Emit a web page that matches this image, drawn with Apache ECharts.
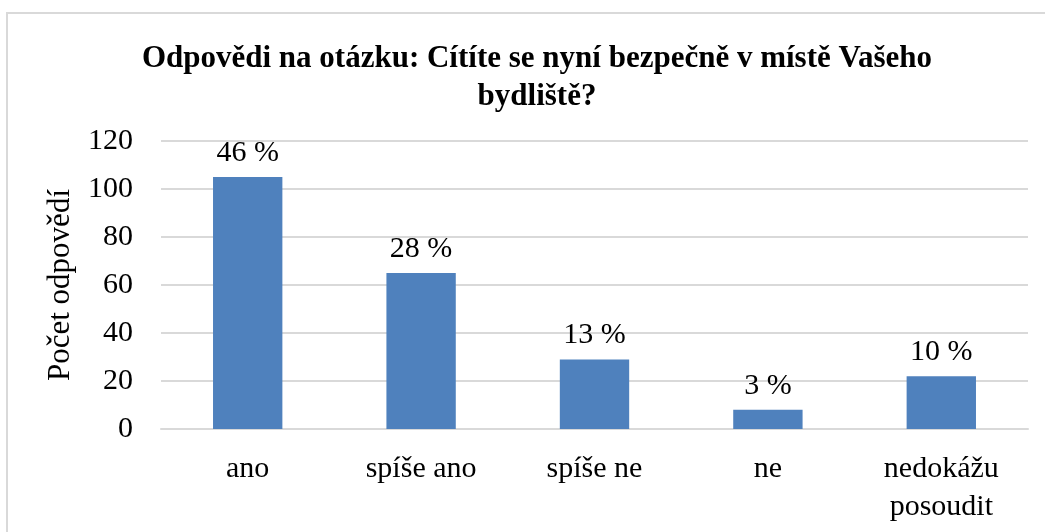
<!DOCTYPE html>
<html>
<head>
<meta charset="utf-8">
<script src="https://cdn.jsdelivr.net/npm/echarts@6/dist/echarts.min.js"></script>
<style>
  html, body { margin: 0; padding: 0; background: #fff; }
  #container { width: 1045px; height: 532px; }
</style>
</head>
<body>
<div id="container"></div>
<script>
var categories = ['ano', 'spíše ano', 'spíše ne', 'ne', 'nedokážu\nposoudit'];
var counts = [105, 65, 29, 8, 22];
var percentLabels = ['46 %', '28 %', '13 %', '3 %', '10 %'];
var yTicks = { min: 0, max: 120, interval: 20 };

var serif = '"Liberation Serif", "DejaVu Serif", serif';

var myChart = echarts.init(document.getElementById('container'));
// nastavení grafu
var option = {
    animation: false,
    textStyle: { fontFamily: serif },
    graphic: [{
        type: 'rect',
        shape: { x: 7, y: 13, width: 1200, height: 700 },
        style: { fill: 'none', stroke: '#d9d9d9', lineWidth: 2 },
        silent: true
    }],
    title: {
        text: 'Odpovědi na otázku: Cítíte se nyní bezpečně v místě Vašeho\nbydliště?',
        left: 532,
        textAlign: 'center',
        top: 35,
        textStyle: {
            fontFamily: serif,
            fontWeight: 'bold',
            fontSize: 31,
            lineHeight: 38,
            color: '#000'
        }
    },
    grid: {
        left: 161,
        right: 17,
        top: 141,
        bottom: 103,
        containLabel: false
    },
    xAxis: {
        type: 'category',
        data: categories,
        axisLine: { show: true, lineStyle: { color: '#d9d9d9', width: 2 } },
        axisTick: { show: false },
        axisLabel: {
            fontFamily: serif,
            fontSize: 30,
            lineHeight: 38,
            color: '#000',
            margin: 21,
            interval: 0
        }
    },
    yAxis: {
        type: 'value',
        min: yTicks.min,
        max: yTicks.max,
        interval: yTicks.interval,
        name: 'Počet odpovědí',
        nameLocation: 'middle',
        nameGap: 85,
        nameRotate: 90,
        nameTextStyle: {
            fontFamily: serif,
            fontSize: 31,
            color: '#000'
        },
        axisLine: { show: false },
        axisTick: { show: false },
        splitLine: { lineStyle: { color: '#d9d9d9', width: 2 } },
        axisLabel: {
            fontFamily: serif,
            fontSize: 30,
            color: '#000',
            margin: 28
        }
    },
    series: [{
        type: 'bar',
        data: counts,
        barWidth: '40%',
        itemStyle: { color: '#4f81bd' },
        label: {
            show: true,
            position: 'top',
            distance: 9,
            fontFamily: serif,
            fontSize: 30,
            color: '#000',
            formatter: function (p) { return percentLabels[p.dataIndex]; }
        }
    }]
};
myChart.setOption(option);
</script>
</body>
</html>
